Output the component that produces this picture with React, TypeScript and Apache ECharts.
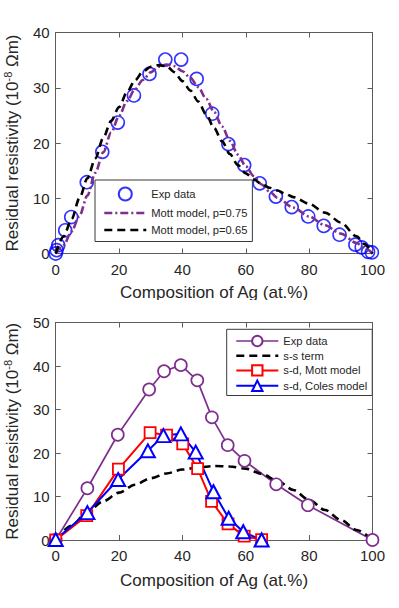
import React, { useEffect, useRef } from "react";
import * as echarts from "echarts";

// ---------- Top panel data ----------
const topExpX = [0, 0.3, 0.8, 3.0, 4.9, 9.8, 14.7, 19.6, 24.7, 29.6, 34.6, 39.6, 44.5, 49.4, 54.5, 59.5, 64.4, 69.5, 74.5, 79.7, 84.6, 89.6, 94.6, 96.6, 98.6, 99.8];
const topExpY = [0, 0.6, 1.5, 4.2, 6.6, 12.9, 18.4, 23.7, 28.6, 32.5, 35.1, 35.1, 31.6, 25.3, 19.8, 16.0, 12.7, 10.3, 8.4, 6.7, 5.0, 3.4, 1.6, 1.1, 0.3, 0.2];

const mott75X = [0, 2.5, 5, 7.5, 10, 12.5, 15, 17.5, 20, 22.5, 25, 27.5, 30, 32.5, 35, 37.5, 40, 42.5, 45, 47.5, 50, 52.5, 55, 57.5, 60, 62.5, 65, 67.5, 70, 75, 80, 85, 90, 95, 97.5, 100];
const mott75Y = [0, 1.5, 4.0, 6.8, 10.5, 14.6, 18.3, 21.9, 24.9, 27.6, 29.7, 31.4, 32.8, 33.8, 34.2, 33.9, 33.0, 31.8, 30.1, 28.0, 25.6, 23.0, 20.4, 17.9, 15.8, 14.0, 12.5, 11.2, 10.1, 8.3, 6.7, 5.1, 3.6, 1.9, 1.0, 0];

const mott65X = [0, 2.5, 5, 7.5, 10, 12.5, 15, 17.5, 20, 22.5, 25, 27.5, 30, 32.5, 35, 37.5, 40, 42.5, 45, 47.5, 50, 52.5, 55, 57.5, 60, 62.5, 65, 67.5, 70, 72.5, 75, 80, 85, 90, 95, 97.5, 100];
const mott65Y = [0, 3.1, 6.2, 10.0, 13.6, 17.2, 20.9, 24.0, 26.5, 29.2, 31.3, 32.9, 33.8, 34.1, 33.9, 32.8, 31.2, 29.5, 27.5, 25.2, 22.7, 20.3, 18.0, 16.0, 14.5, 13.4, 12.6, 11.9, 11.4, 10.8, 10.2, 9.0, 7.4, 5.6, 3.1, 1.7, 0];

// ---------- Bottom panel data ----------
const botExpX = [0, 10, 19.6, 29.5, 34.2, 39.5, 44.7, 49.3, 54.3, 59.6, 69.6, 79.6, 100];
const botExpY = [0, 11.9, 24.2, 34.6, 38.8, 40.2, 36.7, 28.2, 21.8, 18.2, 12.8, 8.0, 0];

const ssX = [0, 5, 10, 15, 20, 25, 30, 35, 40, 45, 50, 55, 60, 65, 70, 75, 80, 85, 90, 95, 100];
const ssY = [0, 3.3, 6.5, 8.9, 10.9, 12.7, 14.2, 15.3, 16.2, 16.7, 17.0, 16.9, 16.4, 15.2, 13.6, 11.5, 9.2, 6.9, 4.6, 2.3, 0];

const sdMottX = [0, 9.8, 19.8, 29.8, 35.0, 40.1, 44.8, 49.2, 54.4, 59.5, 65.0];
const sdMottY = [0, 5.6, 16.3, 24.7, 24.1, 22.1, 16.4, 8.9, 3.7, 0.9, 0.1];

const sdColesX = [0, 10, 19.7, 29.1, 34.0, 39.5, 44.2, 49.8, 54.6, 59.2, 65.0];
const sdColesY = [0.1, 6.3, 13.9, 20.5, 24.0, 24.4, 20.2, 11.1, 5.0, 1.9, 0];

const xTickInterval = 20;
const topYMax = 40;
const botYMax = 50;

const FONT = "'Liberation Sans', Arial, Helvetica, sans-serif";
const TXT = "#262626";
const AX = "#5c5c5c";
const PURPLE = "#7E2F8E";

const zip = (xs: number[], ys: number[]) => xs.map((x, i) => [x, ys[i]]);

function axes(yMax: number, xNameGap: number) {
  const axisLine = { show: true, onZero: false, lineStyle: { color: AX, width: 1 } };
  const axisTick = { show: true, inside: true, length: 5, lineStyle: { color: AX, width: 1 } };
  const nameStyle = { fontFamily: FONT, fontSize: 17, color: TXT };
  return {
    xAxis: [
      {
        type: "value", min: 0, max: 100, interval: xTickInterval, position: "bottom",
        axisLine, axisTick, splitLine: { show: false },
        axisLabel: { color: TXT, fontSize: 15, fontFamily: FONT, margin: 8 },
        name: "Composition of Ag (at.%)", nameLocation: "middle", nameGap: xNameGap,
        nameTextStyle: nameStyle,
      },
      {
        type: "value", min: 0, max: 100, interval: xTickInterval, position: "top",
        axisLine, axisTick, splitLine: { show: false }, axisLabel: { show: false },
      },
    ],
    yAxis: [
      {
        type: "value", min: 0, max: yMax, interval: 10, position: "left",
        axisLine, axisTick, splitLine: { show: false },
        axisLabel: { color: TXT, fontSize: 15, fontFamily: FONT, margin: 6 },
        name: "Residual resistivity (10{sup|-8} Ωm)", nameLocation: "middle", nameGap: 33,
        nameTextStyle: {
          ...nameStyle, lineHeight: 20,
          rich: { sup: { fontFamily: FONT, fontSize: 11, lineHeight: 11, verticalAlign: "top", color: TXT } },
        },
      },
      {
        type: "value", min: 0, max: yMax, interval: 10, position: "right",
        axisLine, axisTick, splitLine: { show: false }, axisLabel: { show: false },
      },
    ],
  };
}

function legendBase() {
  return {
    orient: "vertical",
    itemWidth: 42,
    selectedMode: false,
    backgroundColor: "#ffffff",
    borderColor: "#3a3a3a",
    borderWidth: 1,
    borderRadius: 0,
    textStyle: { fontSize: 11.2, color: TXT, fontFamily: FONT },
  };
}

const lineItem = (name: string, width: number, hideSymbol: boolean) =>
  hideSymbol
    ? { name, itemStyle: { opacity: 0 }, lineStyle: { width } }
    : { name, lineStyle: { width } };

function topOption() {
  return {
    animation: false,
    grid: { left: 55.7, right: 26.5, top: 32.5, height: 221, containLabel: false, outerBoundsMode: "none" },
    ...axes(topYMax, 30),
    legend: {
      ...legendBase(),
      left: 95, top: 180, padding: [6.5, 5, 6, 8],
      itemHeight: 13, itemGap: 6,
      data: ["Exp data", lineItem("Mott model, p=0.75", 2.6, true), lineItem("Mott model, p=0.65", 2.6, true)],
    },
    series: [
      {
        name: "Exp data", type: "scatter", clip: false,
        symbol: "circle", symbolSize: 13,
        itemStyle: { color: "rgba(255,255,255,0)", borderColor: "#0000FF", borderWidth: 1.6 },
        data: zip(topExpX, topExpY),
      },
      {
        name: "Mott model, p=0.75", type: "line", clip: false, showSymbol: false, symbol: "none",
        smooth: 0.3, smoothMonotone: "x",
        lineStyle: { color: PURPLE, width: 2.6, type: [8, 3, 2, 3] },
        itemStyle: { color: PURPLE },
        data: zip(mott75X, mott75Y),
      },
      {
        name: "Mott model, p=0.65", type: "line", clip: false, showSymbol: false, symbol: "none",
        smooth: 0.3, smoothMonotone: "x",
        lineStyle: { color: "#000000", width: 2.6, type: [8, 5] },
        itemStyle: { color: "#000000" },
        data: zip(mott65X, mott65Y),
      },
    ],
  };
}

function bottomOption() {
  return {
    animation: false,
    grid: { left: 55.7, right: 26.5, top: 22.5, height: 217.5, containLabel: false, outerBoundsMode: "none" },
    ...axes(botYMax, 32),
    legend: {
      ...legendBase(),
      left: 226.7, top: 29.3, padding: [5.5, 5, 3.5, 8.3],
      itemHeight: 13, itemGap: 3,
      data: [
        lineItem("Exp data", 1.7, false),
        lineItem("s-s term", 2.6, true),
        lineItem("s-d, Mott model", 2, false),
        lineItem("s-d, Coles model", 2, false),
      ],
    },
    series: [
      {
        name: "Exp data", type: "line", clip: false,
        symbol: "circle", symbolSize: 12, showSymbol: true,
        lineStyle: { color: PURPLE, width: 1.7 },
        itemStyle: { color: "#ffffff", borderColor: PURPLE, borderWidth: 1.7 },
        data: zip(botExpX, botExpY),
      },
      {
        name: "s-s term", type: "line", clip: false, showSymbol: false, symbol: "none",
        smooth: 0.3, smoothMonotone: "x",
        lineStyle: { color: "#000000", width: 2.6, type: [8, 5] },
        itemStyle: { color: "#000000" },
        data: zip(ssX, ssY),
      },
      {
        name: "s-d, Mott model", type: "line", clip: false,
        symbol: "rect", symbolSize: 11, showSymbol: true,
        lineStyle: { color: "#FF0000", width: 2 },
        itemStyle: { color: "#ffffff", borderColor: "#FF0000", borderWidth: 1.8 },
        data: zip(sdMottX, sdMottY),
      },
      {
        name: "s-d, Coles model", type: "line", clip: false,
        symbol: "triangle", symbolSize: [14, 13], showSymbol: true,
        lineStyle: { color: "#0000FF", width: 2 },
        itemStyle: { color: "#ffffff", borderColor: "#0000FF", borderWidth: 2 },
        data: zip(sdColesX, sdColesY),
      },
    ],
  };
}

function Chart({ top, height, option }: { top: number; height: number; option: any }) {
  const ref = useRef<HTMLDivElement | null>(null);
  useEffect(() => {
    if (!ref.current) return;
    const chart = echarts.init(ref.current, undefined, { renderer: "svg" });
    chart.setOption(option);
    return () => chart.dispose();
  }, []);
  return (
    <div
      ref={ref}
      style={{ position: "absolute", left: 0, top, width: 399, height }}
    />
  );
}

export default function App() {
  return (
    <div style={{ position: "absolute", left: 0, top: 0, width: 399, height: 608, background: "#fff" }}>
      <Chart top={0} height={300} option={topOption()} />
      <Chart top={300} height={308} option={bottomOption()} />
    </div>
  );
}
